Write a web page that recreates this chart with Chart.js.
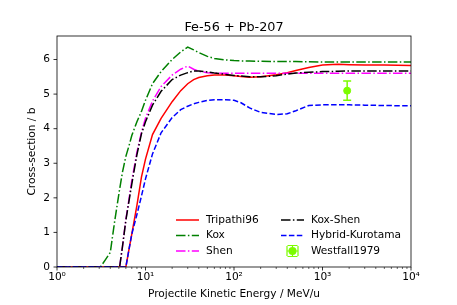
<!DOCTYPE html>
<html>
<head>
<meta charset="utf-8">
<script src="https://cdn.jsdelivr.net/npm/chart.js@4.4.0/dist/chart.umd.min.js"></script>
<style>
  html, body { margin: 0; padding: 0; background: #fff; }
</style>
</head>
<body>
<canvas id="xsChart" width="457" height="305"></canvas>
<script>
// energies in MeV/u, cross-sections in b
const energies = [1, 3.1, 3.5, 4, 4.5, 5.1, 5.5, 6, 6.5, 7, 8, 9, 10, 12, 15, 20, 25, 30, 35, 40, 50, 60, 80, 100, 120, 150, 200, 300, 400, 500, 700, 1000, 1500, 2000, 3000, 5000, 10000];
const tripathi96 = [0, 0, 0, 0, 0, 0, 0, 0, 0.5, 0.95, 1.78, 2.6, 3.12, 3.83, 4.3, 4.78, 5.1, 5.3, 5.42, 5.48, 5.53, 5.55, 5.55, 5.53, 5.51, 5.49, 5.5, 5.56, 5.62, 5.68, 5.77, 5.84, 5.86, 5.85, 5.84, 5.84, 5.83];
const kox = [0, 0, 0.2, 0.42, 1.35, 2.25, 2.75, 3.2, 3.5, 3.8, 4.2, 4.5, 4.82, 5.3, 5.65, 6.0, 6.22, 6.36, 6.28, 6.2, 6.09, 6.03, 5.99, 5.97, 5.96, 5.955, 5.95, 5.94, 5.94, 5.94, 5.935, 5.93, 5.93, 5.93, 5.93, 5.93, 5.93];
const shen = [0, 0, 0, 0, 0, 0, 0.6, 1.38, 1.95, 2.5, 3.32, 3.9, 4.3, 4.8, 5.22, 5.55, 5.72, 5.81, 5.72, 5.66, 5.62, 5.61, 5.6, 5.6, 5.6, 5.6, 5.6, 5.6, 5.6, 5.6, 5.6, 5.6, 5.6, 5.6, 5.6, 5.6, 5.6];
const koxShen = [0, 0, 0, 0, 0, 0, 0.6, 1.35, 1.9, 2.4, 3.25, 3.85, 4.2, 4.68, 5.08, 5.42, 5.55, 5.62, 5.67, 5.67, 5.64, 5.61, 5.57, 5.54, 5.52, 5.5, 5.5, 5.53, 5.58, 5.61, 5.63, 5.65, 5.66, 5.67, 5.67, 5.67, 5.67];
const hybridKurotama = [0, 0, 0, 0, 0, 0, 0, 0, 0.5, 0.95, 1.52, 2.05, 2.55, 3.27, 3.88, 4.32, 4.55, 4.65, 4.72, 4.76, 4.82, 4.84, 4.84, 4.82, 4.75, 4.6, 4.47, 4.41, 4.43, 4.52, 4.67, 4.69, 4.69, 4.69, 4.68, 4.67, 4.66];

const westfallE = [1900];
const westfallXS = [5.1];
const westfallErr = [0.28];

const xTicks = [1, 10, 100, 1000, 10000];
const xTickLabels = ['10⁰', '10¹', '10²', '10³', '10⁴'];
const yTicks = [0, 1, 2, 3, 4, 5, 6];
const chartTitle = 'Fe-56 + Pb-207';

const pts = (ys) => energies.map((e, i) => ({ x: e, y: ys[i] }));

Chart.defaults.font.family = 'DejaVu Sans';
Chart.defaults.color = '#000';

const FS = 10.6;
const DASHDOT = [9.5, 2.4, 1.5, 2.4];
const DASHED = [5.5, 2.4];

// frame, outward ticks and title like matplotlib
const framePlugin = {
  id: 'frame',
  afterDraw(chart) {
    const ctx = chart.ctx;
    const a = chart.chartArea;
    const xs = chart.scales.x, ys = chart.scales.y;
    ctx.save();
    ctx.strokeStyle = '#000';
    ctx.lineWidth = 0.8;
    ctx.strokeRect(a.left, a.top, a.right - a.left, a.bottom - a.top);
    for (let d = 0; d <= 4; d++) {
      for (let m = 1; m <= 9; m++) {
        const v = m * Math.pow(10, d);
        if (v > 10000) break;
        const px = xs.getPixelForValue(v);
        ctx.lineWidth = m === 1 ? 0.8 : 0.6;
        ctx.beginPath();
        ctx.moveTo(px, a.bottom);
        ctx.lineTo(px, a.bottom + (m === 1 ? 3.5 : 2));
        ctx.stroke();
      }
    }
    ctx.lineWidth = 0.8;
    yTicks.forEach(v => {
      const py = ys.getPixelForValue(v);
      ctx.beginPath();
      ctx.moveTo(a.left - 3.5, py);
      ctx.lineTo(a.left, py);
      ctx.stroke();
    });
    ctx.fillStyle = '#000';
    ctx.font = '12.8px DejaVu Sans';
    ctx.textAlign = 'center';
    ctx.textBaseline = 'alphabetic';
    ctx.fillText(chartTitle, (a.left + a.right) / 2, 31);
    ctx.restore();
  }
};

function drawErrMarker(ctx, cx, top, bottom, cap) {
  ctx.beginPath();
  ctx.moveTo(cx, top); ctx.lineTo(cx, bottom);
  ctx.moveTo(cx - cap, top); ctx.lineTo(cx + cap, top);
  ctx.moveTo(cx - cap, bottom); ctx.lineTo(cx + cap, bottom);
  ctx.stroke();
}

const errorBarPlugin = {
  id: 'errorBars',
  afterDatasetsDraw(chart) {
    const ctx = chart.ctx;
    const xs = chart.scales.x, ys = chart.scales.y;
    ctx.save();
    ctx.strokeStyle = '#7CFC00';
    ctx.lineWidth = 1.5;
    westfallE.forEach((e, i) => {
      const px = xs.getPixelForValue(e);
      drawErrMarker(ctx, px, ys.getPixelForValue(westfallXS[i] + westfallErr[i]),
        ys.getPixelForValue(westfallXS[i] - westfallErr[i]), 4);
    });
    ctx.restore();
  }
};

// two-column legend, column-major like matplotlib ncol=2
const legendPlugin = {
  id: 'mplLegend',
  afterDraw(chart) {
    const ctx = chart.ctx;
    const a = chart.chartArea;
    const colX = [a.left + 119, a.left + 224];
    const rowY = [a.bottom - 47, a.bottom - 31.5, a.bottom - 16];
    ctx.save();
    ctx.font = FS + 'px DejaVu Sans';
    ctx.textBaseline = 'middle';
    ctx.textAlign = 'left';
    chart.data.datasets.forEach((ds, i) => {
      const x0 = colX[Math.floor(i / 3)];
      const y = rowY[i % 3];
      if (ds.showLine === false) {
        const cx = x0 + 11.5;
        ctx.strokeStyle = ds.borderColor;
        ctx.lineWidth = 1.2;
        ctx.setLineDash([]);
        drawErrMarker(ctx, cx, y - 5.5, y + 5.5, 5);
        ctx.beginPath();
        ctx.moveTo(cx - 5.5, y); ctx.lineTo(cx + 5.5, y);
        ctx.moveTo(cx - 5.5, y - 5); ctx.lineTo(cx - 5.5, y + 5);
        ctx.moveTo(cx + 5.5, y - 5); ctx.lineTo(cx + 5.5, y + 5);
        ctx.stroke();
        ctx.fillStyle = ds.backgroundColor;
        ctx.beginPath();
        ctx.arc(cx, y, 4, 0, Math.PI * 2);
        ctx.fill();
      } else {
        ctx.strokeStyle = ds.borderColor;
        ctx.lineWidth = ds.borderWidth;
        ctx.setLineDash(ds.borderDash || []);
        ctx.beginPath();
        ctx.moveTo(x0, y);
        ctx.lineTo(x0 + 23, y);
        ctx.stroke();
      }
      ctx.setLineDash([]);
      ctx.fillStyle = '#000';
      ctx.fillText(ds.label, x0 + 30, y);
    });
    ctx.restore();
  }
};

const lineSet = (label, ys, color, dash, order) => ({
  label, data: pts(ys), borderColor: color, backgroundColor: color,
  borderWidth: 1.5, borderDash: dash, pointRadius: 0, tension: 0, order
});

new Chart(document.getElementById('xsChart'), {
  type: 'line',
  data: {
    datasets: [
      lineSet('Tripathi96', tripathi96, '#ff0000', [], 10),
      lineSet('Kox', kox, '#008000', DASHDOT, 9),
      lineSet('Shen', shen, '#ff00ff', DASHDOT, 8),
      lineSet('Kox-Shen', koxShen, '#000000', DASHDOT, 7),
      lineSet('Hybrid-Kurotama', hybridKurotama, '#0000ff', DASHED, 6),
      {
        label: 'Westfall1979',
        data: westfallE.map((e, i) => ({ x: e, y: westfallXS[i] })),
        showLine: false,
        borderColor: '#7CFC00',
        backgroundColor: '#7CFC00',
        pointRadius: 3.5,
        pointBorderWidth: 1,
        order: 5
      }
    ]
  },
  options: {
    responsive: false,
    animation: false,
    devicePixelRatio: 1,
    layout: { padding: { top: 36, right: 46, left: 0, bottom: 0 } },
    plugins: { legend: { display: false }, tooltip: { enabled: false }, title: { display: false } },
    scales: {
      x: {
        type: 'logarithmic',
        min: 1,
        max: 10000,
        grid: { display: false, drawTicks: false },
        border: { display: false },
        ticks: {
          autoSkip: false, maxRotation: 0, padding: 4, font: { size: FS },
          callback: (v) => { const k = xTicks.indexOf(v); return k >= 0 ? xTickLabels[k] : ''; }
        },
        afterBuildTicks: (s) => { s.ticks = xTicks.map(v => ({ value: v })); },
        afterFit: (s) => { s.height = 38; },
        title: { display: true, text: 'Projectile Kinetic Energy / MeV/u', font: { size: FS }, padding: { top: 0, bottom: 4.5 } }
      },
      y: {
        min: 0,
        max: 6.68,
        grid: { display: false, drawTicks: false },
        border: { display: false },
        ticks: { padding: 7, font: { size: FS } },
        afterBuildTicks: (s) => { s.ticks = yTicks.map(v => ({ value: v })); },
        afterFit: (s) => { s.width = 57; },
        title: { display: true, text: 'Cross-section / b', font: { size: FS }, padding: { top: 26, bottom: 0 } }
      }
    }
  },
  plugins: [errorBarPlugin, framePlugin, legendPlugin]
});
</script>
</body>
</html>
